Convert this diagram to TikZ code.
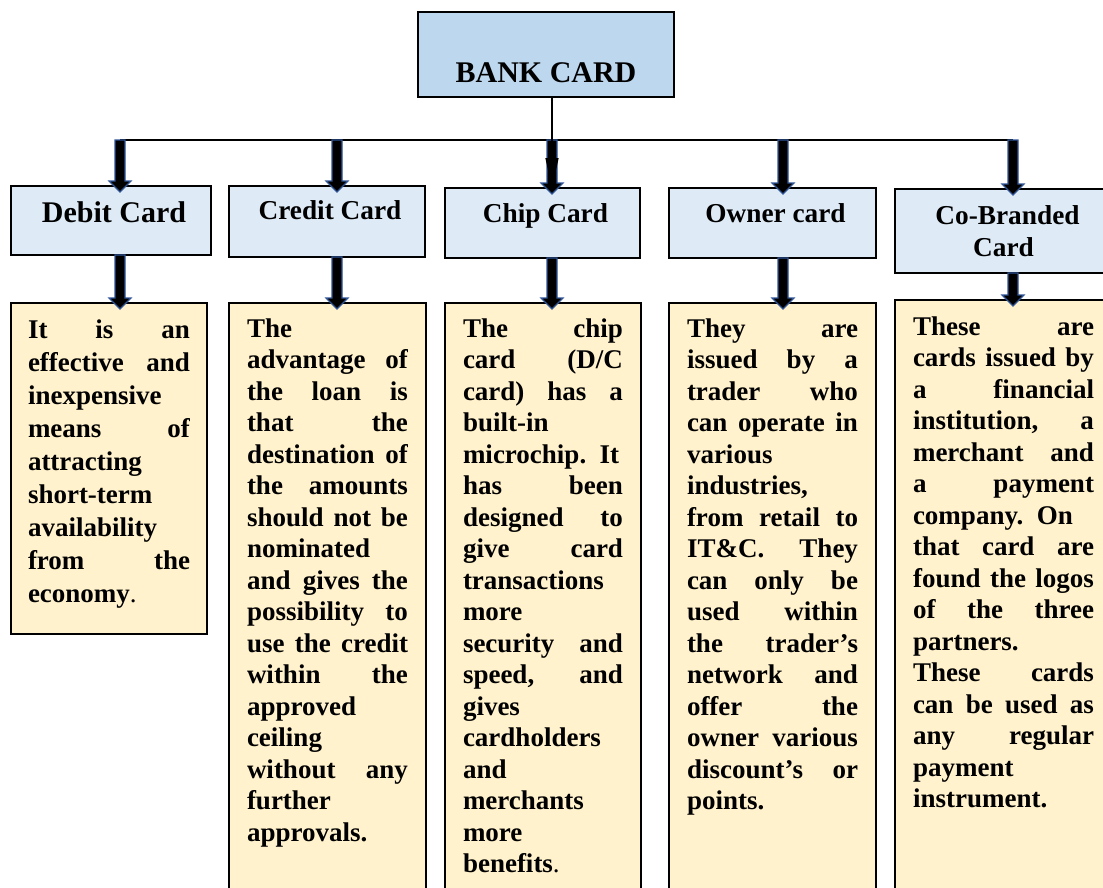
\documentclass[tikz,border=0pt]{standalone}
\usepackage{fontspec}
\setmainfont{Liberation Serif}
\usepackage{tikz}
\tikzset{
  every node/.style = {
    inner sep = 0pt,
    outer sep = 0pt
  }
}
\usetikzlibrary{
arrows.meta,
calc
}
\definecolor{bankblue}{HTML}{BDD7EE}
\definecolor{cardblue}{HTML}{DEEBF7}
\definecolor{infocream}{HTML}{FFF2CC}
\definecolor{arrowedge}{HTML}{2F5597}
\newcommand{\jline}[1]{\hbox to \hsize{\spaceskip=0.25em plus 3em\relax#1}}

\begin{document}
\begin{tikzpicture}[
        x = 1pt,
        y = -1pt,
        head box/.style={
          draw = black,
          line width = 1.4pt,
          fill = bankblue,
          anchor = north west,
          font = \fontsize{30}{32.3}\selectfont\bfseries,
        },
        card box/.style={
          head box,
          fill = cardblue,
          text height = 34pt,
          text depth = 36pt,
          font = \fontsize{27.3}{32.3}\selectfont\bfseries,
          execute at begin node = \hspace*{6pt},
        },
        info box/.style={
          draw = black,
          line width = 1.4pt,
          fill = infocream,
          anchor = north west,
          inner xsep = 18pt,
          text height = 34pt,
          font = \fontsize{27}{31.5}\selectfont\bfseries,
        },
        block arrow/.style={
          draw = arrowedge,
          fill = black,
          line width = 1.2pt,
          to path = {
            let \p1 = (\tikztostart), \p2 = (\tikztotarget) in
            (\x1-5pt,\y1) -- (\x1+5pt,\y1) -- (\x1+5pt,\y2+5pt)
            -- (\x1+11pt,\y2+5pt) -- (\x1,\y2-6pt) -- (\x1-11pt,\y2+5pt)
            -- (\x1-5pt,\y2+5pt) -- cycle
          }
        },
        ]
        \path [use as bounding box, clip] (0,0) rectangle (1103,887);

        % top box and the five card types
        \node [head box, minimum width=256pt, text height=70pt, text depth=15pt]
          (bank) at (418,12) {BANK CARD};
        \node [card box, minimum width=200pt, text height=36.5pt, text depth=32.5pt,
          font=\fontsize{30}{32.3}\selectfont\bfseries] (debit) at (11,186) {Debit Card};
        \node [card box, minimum width=196pt, text height=33pt, text depth=38pt]
          (credit) at (229,186) {Credit Card};
        \node [card box, minimum width=195pt] (chip) at (445,188) {Chip Card};
        \node [card box, minimum width=207pt] (owner) at (669,188) {Owner card};
        \node [head box, fill=cardblue, minimum width=217pt, minimum height=84pt,
          align=center, font=\fontsize{27.3}{32.3}\selectfont\bfseries]
          (cobrand) at (895,189) {\hspace*{8pt}Co-Branded\\Card};

        % descriptions
        \node [info box, text width=162pt, inner xsep=17pt, text height=35pt,
          text depth=296pt, font=\fontsize{27}{33.1}\selectfont\bfseries]
          (debit-info) at (11,303) {%
          \jline{It is an}
          \jline{effective and}
          \jline{inexpensive\hfil}
          \jline{means of}
          \jline{attracting\hfil}
          \jline{short-term\hfil}
          \jline{availability\hfil}
          \jline{from the}
          \jline{economy{\mdseries.}\hfil}};
        \node [info box, text width=161pt, text depth=563pt]
          (credit-info) at (229,303) {%
          \jline{The\hfil}
          \jline{advantage of}
          \jline{the loan is}
          \jline{that the}
          \jline{destination of}
          \jline{the amounts}
          \jline{should not be}
          \jline{nominated\hfil}
          \jline{and gives the}
          \jline{possibility to}
          \jline{use the credit}
          \jline{within the}
          \jline{approved\hfil}
          \jline{ceiling\hfil}
          \jline{without any}
          \jline{further\hfil}
          \jline{approvals.\hfil}};
        \node [info box, text width=160pt, text depth=563pt]
          (chip-info) at (445,303) {%
          \jline{The chip}
          \jline{card (D/C}
          \jline{card) has a}
          \jline{built-in\hfil}
          \jline{microchip. It}
          \jline{has been}
          \jline{designed to}
          \jline{give card}
          \jline{transactions\hfil}
          \jline{more\hfil}
          \jline{security and}
          \jline{speed, and}
          \jline{gives\hfil}
          \jline{cardholders\hfil}
          \jline{and\hfil}
          \jline{merchants\hfil}
          \jline{more\hfil}
          \jline{benefits{\mdseries.}\hfil}};
        \node [info box, text width=171pt, text depth=563pt]
          (owner-info) at (669,303) {%
          \jline{They are}
          \jline{issued by a}
          \jline{trader who}
          \jline{can operate in}
          \jline{various\hfil}
          \jline{industries,\hfil}
          \jline{from retail to}
          \jline{IT\&C. They}
          \jline{can only be}
          \jline{used within}
          \jline{the trader’s}
          \jline{network and}
          \jline{offer the}
          \jline{owner various}
          \jline{discount’s or}
          \jline{points.\hfil}};
        \node [info box, text width=181pt, text height=35pt, text depth=565pt]
          (cobrand-info) at (895,300) {%
          \jline{These are}
          \jline{cards issued by}
          \jline{a financial}
          \jline{institution, a}
          \jline{merchant and}
          \jline{a payment}
          \jline{company. On}
          \jline{that card are}
          \jline{found the logos}
          \jline{of the three}
          \jline{partners.\hfil}
          \jline{These cards}
          \jline{can be used as}
          \jline{any regular}
          \jline{payment\hfil}
          \jline{instrument.\hfil}};

        % branching line
        \coordinate (bus-debit) at (120,140);
        \coordinate (bus-credit) at (337,140);
        \coordinate (bus-chip) at (552,140);
        \coordinate (bus-owner) at (783,140);
        \coordinate (bus-cobrand) at (1013,140);
        \draw [line width=1.2pt] (bus-debit) -- (bus-cobrand);

        % block arrows
        \draw [block arrow] (bus-debit) to (bus-debit |- debit.north);
        \draw [block arrow] (bus-credit) to (bus-credit |- credit.north);
        \draw [block arrow] (bus-chip) to (bus-chip |- chip.north);
        \draw [block arrow] (bus-owner) to (bus-owner |- owner.north);
        \draw [block arrow] (bus-cobrand) to (bus-cobrand |- cobrand.north);
        \draw [block arrow] (bus-debit |- debit.south) to (bus-debit |- debit-info.north);
        \draw [block arrow] (bus-credit |- credit.south) to (bus-credit |- credit-info.north);
        \draw [block arrow] (bus-chip |- chip.south) to (bus-chip |- chip-info.north);
        \draw [block arrow] (bus-owner |- owner.south) to (bus-owner |- owner-info.north);
        \draw [block arrow] (bus-cobrand |- cobrand.south) to (bus-cobrand |- cobrand-info.north);

        \draw [line width=1.4pt, -{Triangle[width=13pt,length=30pt]}]
          (bank.south -| bus-chip) -- (bus-chip |- chip.north);
      \end{tikzpicture}
\end{document}
